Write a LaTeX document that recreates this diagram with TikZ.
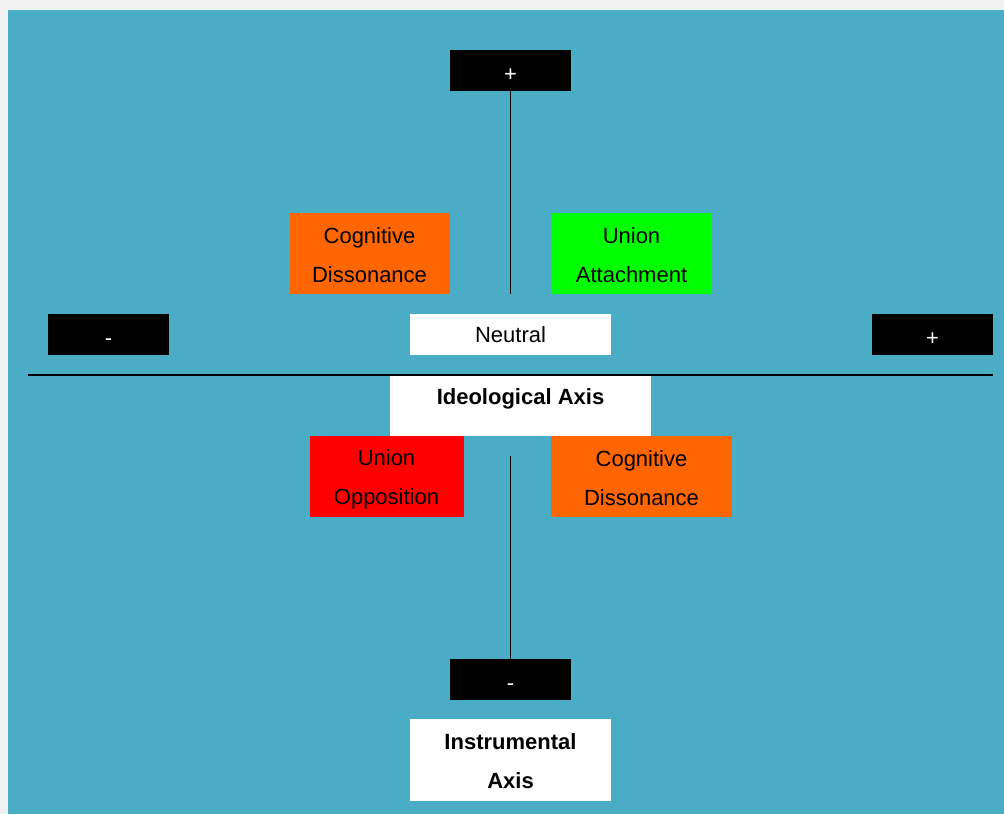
\documentclass[tikz,border=0pt]{standalone}
\usepackage{fontspec}
\setmainfont{Liberation Sans}
\definecolor{panelblue}{HTML}{4BACC6}
\definecolor{framegray}{HTML}{F0F0F0}
\definecolor{dissonance}{HTML}{FF6600}
\definecolor{attach}{HTML}{00FF00}
\definecolor{oppose}{HTML}{FF0000}
\begin{document}
\begin{tikzpicture}[x=1pt,y=-1pt,
  box/.style={draw=none, inner sep=0pt, outer sep=0pt, align=center,
    font=\fontsize{22}{38.5}\selectfont},
  txt/.style={inner sep=0pt, align=center, text=black,
    font=\fontsize{22}{38.5}\selectfont},
  pole/.style={draw=none, inner sep=0pt, outer sep=0pt, fill=black, text=white,
    font=\fontsize{22}{26}\selectfont, text height=22pt, text depth=0pt,
    minimum width=121pt, minimum height=41pt},
  quad/.style={box, minimum height=81pt},
  axis/.style={line width=1.3pt, black},
  title/.style={font=\fontsize{22}{38.5}\selectfont\bfseries, align=center, inner sep=0pt}
]
% canvas
\fill[framegray] (0,0) rectangle (1004,814);
\fill[panelblue] (8,10) rectangle (1004,814);
\useasboundingbox (0,0) rectangle (1004,814);

% poles of the instrumental axis
\node[pole] (itop) at (510.5,70.5) {+};
\node[pole] (ibot) at (510.5,679.5) {-};

% poles of the ideological axis
\node[pole] (ileft) at (108.5,334.5) {-};
\node[pole] (iright) at (932.5,334.5) {+};
\node[box, fill=white, minimum width=201pt, minimum height=41pt] (neutral) at (510.5,334.5) {Neutral};

% quadrants
\node[quad, fill=dissonance, minimum width=160pt,
  label={[txt, yshift=-2pt]center:{Cognitive\\Dissonance}}] (cdtop) at (369.5,253) {};
\node[quad, fill=attach, minimum width=161pt,
  label={[txt, yshift=-2pt]center:{Union\\Attachment}}] (uatt) at (631.5,253) {};
\node[quad, fill=oppose, minimum width=154pt,
  label={[txt, yshift=-3pt]center:{Union\\Opposition}}] (uopp) at (386.5,476.5) {};
\node[quad, fill=dissonance, minimum width=181pt,
  label={[txt, yshift=-1.5pt]center:{Cognitive\\Dissonance}}] (cdbot) at (641.5,476.5) {};

% axis titles
\node[box, fill=white, minimum width=261pt, minimum height=61pt] (ideobox) at (520.5,405.5) {};
\node[title] (ideotext) at (520.5,399) {Ideological Axis};
\node[box, fill=white, minimum width=201pt, minimum height=82pt,
  label={[txt, yshift=-1pt, font=\fontsize{22}{38.5}\selectfont\bfseries]center:{Instrumental\\Axis}}] (instr) at (510.5,760) {};

% axes
\coordinate (vupper) at (510.5,294);
\coordinate (vlower) at (510.5,456);
\coordinate (hleft) at (28,375);
\coordinate (hright) at (993,375);
\draw[axis] (itop.south) -- (vupper);
\draw[axis] (vlower) -- (ibot.north);
\draw[axis] (hleft) -- (hright);
\end{tikzpicture}
\end{document}
